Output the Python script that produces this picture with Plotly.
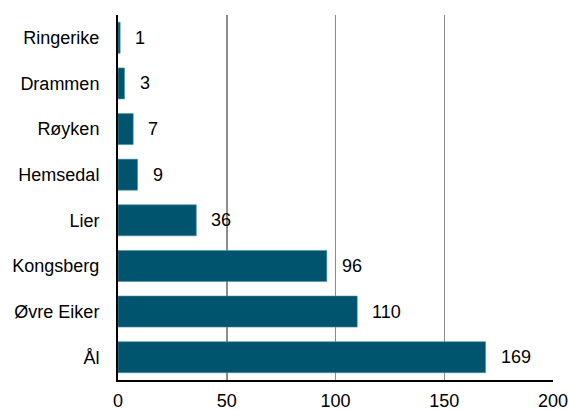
import plotly.graph_objects as go

categories = ["Ringerike", "Drammen", "Røyken", "Hemsedal", "Lier", "Kongsberg", "Øvre Eiker", "Ål"]
values = [1, 3, 7, 9, 36, 96, 110, 169]
x_ticks = [0, 50, 100, 150, 200]

bar_color = "#00546E"
font_family = "Liberation Sans, Arial, sans-serif"

fig = go.Figure()
fig.add_trace(go.Bar(
    y=categories, x=values, orientation="h",
    marker=dict(color=bar_color, line=dict(color="#4A90A4", width=0.6)),
    width=0.68, hoverinfo="skip",
))
for c, v in zip(categories, values):
    fig.add_annotation(x=v, y=c, text=str(v), showarrow=False,
                       xanchor="left", xshift=13,
                       font=dict(family=font_family, size=18, color="#000000"))

fig.update_layout(
    width=569, height=410,
    margin=dict(l=118, r=16, t=15, b=30),
    plot_bgcolor="white", paper_bgcolor="white",
    showlegend=False,
    font=dict(family=font_family, size=18, color="#000000"),
)
fig.update_xaxes(
    range=[0, 200], tickvals=x_ticks, ticktext=[str(t) for t in x_ticks],
    showgrid=True, gridcolor="#8C8C8C", gridwidth=1.5,
    showline=True, linecolor="#000000", linewidth=2,
    zeroline=False, ticks="", ticklabelstandoff=3, automargin=False,
)
fig.update_yaxes(
    categoryorder="array", categoryarray=categories[::-1],
    showgrid=False, showline=True, linecolor="#000000", linewidth=2,
    ticks="", ticklabelstandoff=13, zeroline=False, automargin=False,
)

fig.write_html(
    "out.html",
    config={"displayModeBar": False, "staticPlot": True},
    post_script="document.body.style.margin='0';document.body.style.overflow='hidden';",
)
